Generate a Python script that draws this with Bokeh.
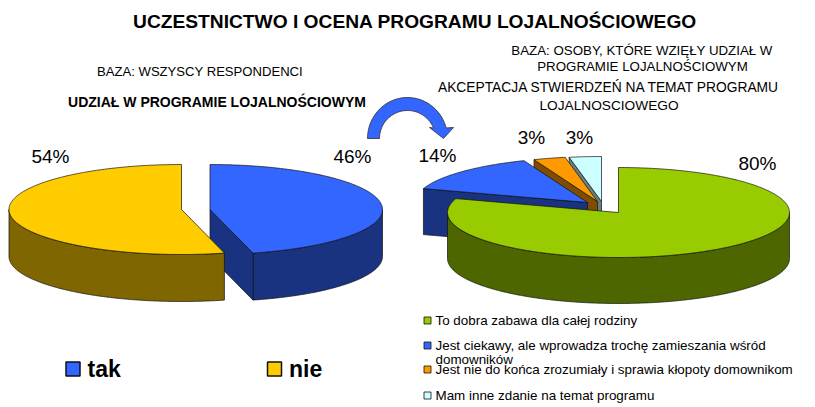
import math
from bokeh.plotting import figure
from bokeh.embed import file_html
from bokeh.resources import INLINE
from bokeh.models import Range1d
from bokeh.core.properties import value

# ---- data
left_labels = ["tak", "nie"]
left_values = [46, 54]
left_colors = ["#3366FF", "#FFCC00"]
left_sides = ["#1A3380", "#7F6600"]

right_labels = ["To dobra zabawa dla całej rodziny",
                "Jest ciekawy, ale wprowadza trochę zamieszania wśród\ndomowników",
                "Jest nie do końca zrozumiały i sprawia kłopoty domownikom",
                "Mam inne zdanie na temat programu"]
right_values = [80, 14, 3, 3]
right_colors = ["#99CC00", "#3366FF", "#FF9900", "#CCFFFF"]
right_sides = ["#4D6600", "#1A3380", "#804C00", "#668080"]

W, H = 815, 407
p = figure(width=W, height=H, output_backend="svg", toolbar_location=None,
           x_range=Range1d(0, W), y_range=Range1d(H, 0),
           min_border=0, outline_line_color=None)
p.axis.visible = False
p.grid.visible = False
p.background_fill_color = "white"
p.border_fill_color = "white"

RY = 45
FONT = "Liberation Sans"

def pt(c, a, rx):
    r = math.radians(a)
    return c[0] + rx * math.sin(r), c[1] - RY * math.cos(r)

def arc(c, a0, a1, rx, dy=0):
    n = max(2, int(abs(a1 - a0)) * 2)
    pts = [pt(c, a0 + (a1 - a0) * i / n, rx) for i in range(n + 1)]
    return [q[0] for q in pts], [q[1] + dy for q in pts]

def poly(xs, ys, color):
    p.patch(xs, ys, fill_color=color, line_color="#101010", line_width=0.7, line_join="miter")

def wedge(c, a0, a1, top, side, rx=172.5, depth=47):
    w0, w1 = max(a0, 90), min(a1, 270)
    if w1 > w0:
        xa, ya = arc(c, w0, w1, rx)
        xb, yb = arc(c, w0, w1, rx, depth)
        poly(xa + xb[::-1], ya + yb[::-1], side)
    for a in (a0, a1):
        s = math.sin(math.radians(a))
        facing = (a == a1 and s > 0) or (a == a0 and s < 0)
        if facing:
            ex, ey = pt(c, a, rx)
            poly([c[0], ex, ex, c[0]], [c[1], ey, ey + depth, c[1] + depth], side)
    xa, ya = arc(c, a0, a1, rx)
    poly([c[0]] + xa, [c[1]] + ya, top)

# ---- left pie
a_blue = 360 * left_values[0] / 100
wedge((209.5, 209), 0, a_blue, left_colors[0], left_sides[0])
wedge((181, 209), a_blue, 360, left_colors[1], left_sides[1])

# ---- right pie, painted back to front
angles = [0]
for v in right_values:
    angles.append(angles[-1] + 360 * v / 100)
centers = [(618, 212), (587, 202), (597, 201), (601, 201)]
for i in (3, 2, 1, 0):
    rx = 171 if i == 0 else 172.5
    wedge(centers[i], angles[i], angles[i + 1], right_colors[i], right_sides[i], rx, 46)

# ---- curved arrow
ac = (407, 138)
N = 40
outer = [math.radians(180 + 165 * i / N) for i in range(N + 1)]
inner = [math.radians(338 - 158 * i / N) for i in range(N + 1)]
ox = [ac[0] + 40 * math.cos(t) for t in outer]
oy = [ac[1] + 41 * math.sin(t) for t in outer]
ix = [ac[0] + 28 * math.cos(t) for t in inner]
iy = [ac[1] + 28 * math.sin(t) for t in inner]
p.patch(ox + [453, 443, 429] + ix, oy + [127, 138, 127] + iy,
        fill_color="#3366FF", line_color="#303030", line_width=0.8, line_join="miter")

def txt(x, y, s, size, bold=False, align="left", color="black"):
    p.text([x], [y], text=[s], text_font=value(FONT), text_font_size=f"{size}px",
           text_font_style="bold" if bold else "normal", text_align=align,
           text_baseline="middle", text_color=color)

# ---- titles
txt(414.5, 21, "UCZESTNICTWO I OCENA PROGRAMU LOJALNOŚCIOWEGO", 19.2, True, "center")
txt(199.5, 71, "BAZA: WSZYSCY RESPONDENCI", 13.1, False, "center")
txt(216.5, 101, "UDZIAŁ W PROGRAMIE LOJALNOŚCIOWYM", 14, True, "center")
txt(641.5, 50, "BAZA: OSOBY, KTÓRE WZIĘŁY UDZIAŁ W", 13.3, False, "center")
txt(642, 66, "PROGRAMIE LOJALNOŚCIOWYM", 13.3, False, "center")
txt(608.5, 87, "AKCEPTACJA STWIERDZEŃ NA TEMAT PROGRAMU", 13.8, False, "center")
txt(608.5, 105, "LOJALNOSCIOWEGO", 13.7, False, "center")

# ---- value labels
txt(352, 156, f"{left_values[0]}%", 19, False, "center")
txt(50, 156, f"{left_values[1]}%", 19, False, "center")
lab = [(757, 163), (437, 155), (531, 137), (579, 137)]
for (x, y), v in zip(lab, right_values):
    txt(x, y, f"{v}%", 19, False, "center")

# ---- left legend
for x, col, s in [(72.5, left_colors[0], left_labels[0]), (274, left_colors[1], left_labels[1])]:
    p.rect([x], [368.5], width=14, height=14, fill_color=col, line_color="#101010", line_width=1.5)
    txt(x + 14.5, 368, s, 23, True)

# ---- right legend
rows = [320, 345, 369, 395]
for y, col, s in zip(rows, right_colors, right_labels):
    p.rect([427], [y], width=7, height=7, fill_color=col, line_color="#101010", line_width=0.8)
    parts = s.split("\n")
    txt(435, y, parts[0], 13.4)
    if len(parts) > 1:
        txt(435, y + 14, parts[1], 13.4)

open("out.html", "w").write(file_html(p, INLINE))
